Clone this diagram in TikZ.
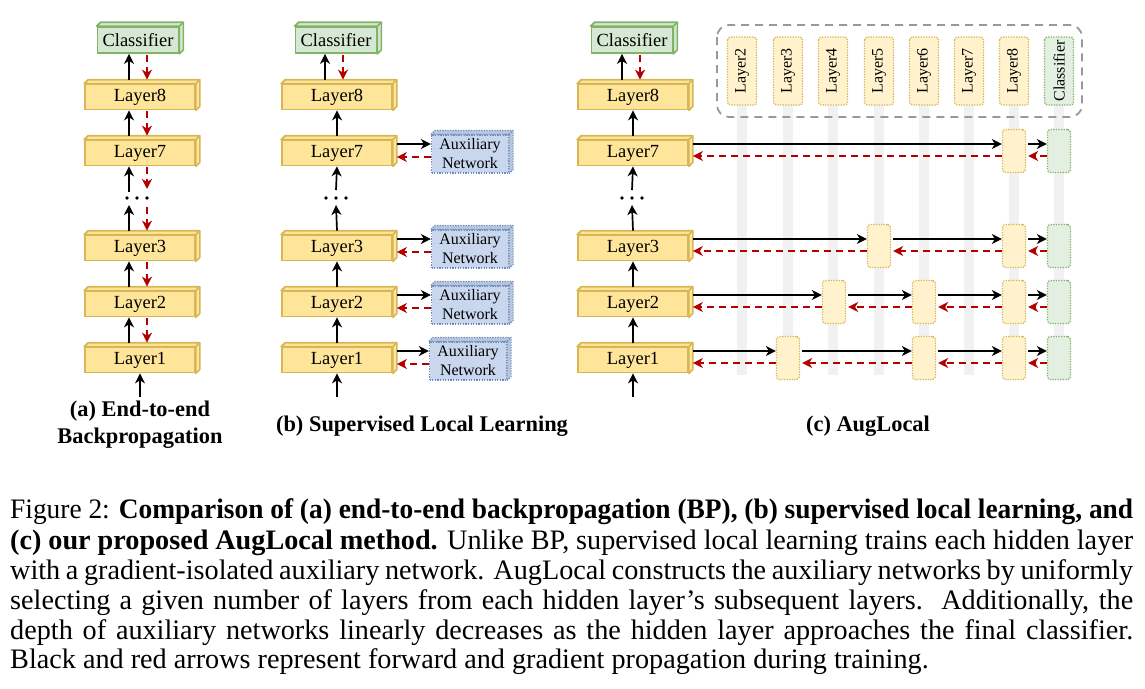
\documentclass[tikz,border=0pt]{standalone}
\usepackage{fontspec}
\setmainfont{Liberation Serif}
\usetikzlibrary{arrows.meta,calc}
\definecolor{layfill}{HTML}{FFE599}
\definecolor{laybd}{HTML}{D6B656}
\definecolor{clsfill}{HTML}{D5E8D4}
\definecolor{clsbd}{HTML}{82B366}
\definecolor{auxfill}{HTML}{C9D7EE}
\definecolor{auxbd}{HTML}{6C8EBF}
\definecolor{smfill}{HTML}{FFF2CC}
\definecolor{gradred}{HTML}{B20000}
\definecolor{bandgray}{HTML}{F1F1F1}
\definecolor{boxgray}{HTML}{999999}
\newcommand\cubeside[2]{%
  \filldraw[#2] (#1.north west) -- ++(4,-4) -- ($(#1.north east)+(4,-4)$) -- ($(#1.south east)+(4,-4)$) -- (#1.south east) -- (#1.north east) -- cycle;
  \draw[#2] (#1.north east) -- ++(4,-4);
}
\begin{document}
\begin{tikzpicture}[x=1pt,y=-1pt,
  layer/.style={draw=laybd, fill=layfill, line width=1.7pt, minimum width=110pt, minimum height=25pt, inner sep=0pt, font=\fontsize{18.5}{20}\selectfont},
  cls/.style={layer, draw=clsbd, fill=clsfill, minimum width=81pt, minimum height=26pt},
  layface/.style={draw=laybd, fill=layfill, line width=1.7pt, line join=round},
  clsface/.style={draw=clsbd, fill=clsfill, line width=1.7pt, line join=round},
  auxface/.style={draw=auxbd, fill=auxfill!92!black, line width=1.2pt, dash pattern=on 1.3pt off 1.3pt, line join=round},
  aux/.style={draw=auxbd, fill=auxfill, line width=1.2pt, dash pattern=on 1.3pt off 1.3pt, minimum width=77pt, minimum height=38pt, inner sep=0pt, align=center, font=\fontsize{16}{19}\selectfont},
  small/.style={draw=laybd, fill=smfill, line width=1.3pt, dash pattern=on 1.3pt off 1.3pt, rounded corners=3pt, minimum width=23pt, minimum height=43pt, inner sep=0pt},
  smallg/.style={small, draw=clsbd, fill=clsfill!70!white},
  vlab/.style={small, minimum width=68pt, minimum height=29pt, rotate=90, font=\fontsize{16}{18}\selectfont},
  vlabg/.style={vlab, draw=clsbd, fill=clsfill!70!white},
  fw/.style={draw=black, line width=1.7pt, -{Stealth[length=10pt,width=10pt,inset=3pt]}},
  bw/.style={draw=gradred, line width=1.7pt, dash pattern=on 7pt off 5pt, -{Stealth[length=10pt,width=10pt,inset=3pt]}},
  band/.style={fill=bandgray, draw=none},
  groupbox/.style={draw=boxgray, line width=1.8pt, dash pattern=on 8pt off 6pt, rounded corners=12pt},
  title/.style={font=\bfseries\fontsize{22.4}{27}\selectfont, align=center},
  capline/.style={anchor=base west, inner sep=0pt, font=\fontsize{28.2}{30}\selectfont}
]
\useasboundingbox (0,0) rectangle (1145,688);

% ---------------- (a) ----------------
\node[cls] (ca) at (138,40) {Classifier};
\node[layer] (a8) at (140,97) {Layer8};
\node[layer] (a7) at (140,153) {Layer7};
\node[layer] (a3) at (140,248) {Layer3};
\node[layer] (a2) at (140,304) {Layer2};
\node[layer] (a1) at (140,360) {Layer1};
\cubeside{ca}{clsface}
\foreach \n in {a8,a7,a3,a2,a1} {\cubeside{\n}{layface}}
\coordinate (da) at (137,198);
\foreach \dx in {-10,0,10} \fill ($(da)+(\dx,0)$) circle (1.8);
\draw[fw] ($(a8.north)+(-11,-4)$) -- ($(ca.south)+(-9,0)$);
\draw[bw] ($(ca.south)+(9,1)$) -- ($(a8.north)+(7,-4)$);
\draw[fw] ($(a7.north)+(-11,-4)$) -- ($(a8.south)+(-11,0)$);
\draw[bw] ($(a8.south)+(7,1)$) -- ($(a7.north)+(7,-4)$);
\draw[fw] ($(da)+(-8,-6)$) -- ($(a7.south)+(-11,0)$);
\draw[bw] ($(a7.south)+(7,1)$) -- ($(da)+(10,-9)$);
\draw[fw] ($(a3.north)+(-11,-4)$) -- ($(da)+(-8,7)$);
\draw[bw] ($(da)+(10,9)$) -- ($(a3.north)+(7,-4)$);
\draw[fw] ($(a2.north)+(-11,-4)$) -- ($(a3.south)+(-11,0)$);
\draw[bw] ($(a3.south)+(7,1)$) -- ($(a2.north)+(7,-4)$);
\draw[fw] ($(a1.north)+(-11,-4)$) -- ($(a2.south)+(-11,0)$);
\draw[bw] ($(a2.south)+(7,1)$) -- ($(a1.north)+(7,-4)$);
\coordinate (ina) at (140,397);
\draw[fw] (ina) -- (a1.south);
\node[title] (ta) at (140,425) {(a) End-to-end\\Backpropagation};

% ---------------- (b) ----------------
\node[cls] (cb) at (336,40) {Classifier};
\node[layer] (b8) at (337,97) {Layer8};
\node[layer] (b7) at (337,153) {Layer7};
\node[layer] (b3) at (337,248) {Layer3};
\node[layer] (b2) at (337,304) {Layer2};
\node[layer] (b1) at (337,360) {Layer1};
\cubeside{cb}{clsface}
\foreach \n in {b8,b7,b3,b2,b1} {\cubeside{\n}{layface}}
\coordinate (db) at (336,198);
\foreach \dx in {-10,0,10} \fill ($(db)+(\dx,0)$) circle (1.8);
\draw[fw] ($(b8.north)+(-12,-4)$) -- ($(cb.south)+(-11,0)$);
\draw[bw] ($(cb.south)+(7,1)$) -- ($(b8.north)+(6,-4)$);
\draw[fw] ($(b7.north)+(0,-4)$) -- (b8.south);
\draw[fw] ($(db)+(0,-8)$) -- (b7.south);
\draw[fw] ($(b3.north)+(0,-4)$) -- ($(db)+(0,7)$);
\draw[fw] ($(b2.north)+(0,-4)$) -- (b3.south);
\draw[fw] ($(b1.north)+(0,-4)$) -- (b2.south);
\coordinate (inb) at (337,397);
\draw[fw] (inb) -- (b1.south);
\node[aux] (ab7) at (470,154) {Auxiliary\\Network};
\node[aux] (ab3) at (470,249) {Auxiliary\\Network};
\node[aux] (ab2) at (470,305) {Auxiliary\\Network};
\node[aux] (ab1) at (468,361) {Auxiliary\\Network};
\foreach \n in {ab7,ab3,ab2,ab1} {\cubeside{\n}{auxface}}
\foreach \l/\a in {b7/ab7,b3/ab3,b2/ab2,b1/ab1} {
  \draw[fw] ($(\l.east)+(4,-9)$) -- ($(\a.west)+(0,-10)$);
  \draw[bw] ($(\a.west)+(0,3)$) -- ($(\l.east)+(4,4)$);
}
\node[title] (tb) at (422,426) {(b) Supervised Local Learning};

% ---------------- (c) ----------------
\foreach \x in {742,788,833,879,924,969,1014,1059} \fill[band] (\x-5,100) rectangle (\x+5,375);
\draw[groupbox] (717,25) rectangle (1082,117);
\node[vlab] (v2) at (742,71) {Layer2};
\node[vlab] (v3) at (788,71) {Layer3};
\node[vlab] (v4) at (833,71) {Layer4};
\node[vlab] (v5) at (879,71) {Layer5};
\node[vlab] (v6) at (924,71) {Layer6};
\node[vlab] (v7) at (969,71) {Layer7};
\node[vlab] (v8) at (1014,71) {Layer8};
\node[vlabg] (vc) at (1059,71) {Classifier};

\node[cls] (cc) at (632,40) {Classifier};
\node[layer] (c8) at (633,97) {Layer8};
\node[layer] (c7) at (633,153) {Layer7};
\node[layer] (c3) at (633,248) {Layer3};
\node[layer] (c2) at (633,304) {Layer2};
\node[layer] (c1) at (633,360) {Layer1};
\cubeside{cc}{clsface}
\foreach \n in {c8,c7,c3,c2,c1} {\cubeside{\n}{layface}}
\coordinate (dc) at (632,198);
\foreach \dx in {-10,0,10} \fill ($(dc)+(\dx,0)$) circle (1.8);
\draw[fw] ($(c8.north)+(-11,-4)$) -- ($(cc.south)+(-10,0)$);
\draw[bw] ($(cc.south)+(8,1)$) -- ($(c8.north)+(7,-4)$);
\draw[fw] ($(c7.north)+(0,-4)$) -- (c8.south);
\draw[fw] ($(dc)+(0,-8)$) -- (c7.south);
\draw[fw] ($(c3.north)+(0,-4)$) -- ($(dc)+(0,7)$);
\draw[fw] ($(c2.north)+(0,-4)$) -- (c3.south);
\draw[fw] ($(c1.north)+(0,-4)$) -- (c2.south);
\coordinate (inc) at (633,397);
\draw[fw] (inc) -- (c1.south);

% rows of small boxes
\node[small] (s78) at (1014,151) {};
\node[smallg] (s7c) at (1059,151) {};
\node[small] (s35) at (879,246) {};
\node[small] (s38) at (1014,246) {};
\node[smallg] (s3c) at (1059,246) {};
\node[small] (s24) at (834,302) {};
\node[small] (s26) at (924,302) {};
\node[small] (s28) at (1014,302) {};
\node[smallg] (s2c) at (1059,302) {};
\node[small] (s13) at (788,358) {};
\node[small] (s16) at (924,358) {};
\node[small] (s18) at (1014,358) {};
\node[smallg] (s1c) at (1059,358) {};

\foreach \l/\s in {c7/s78,c3/s35,c2/s24,c1/s13} {
  \draw[fw] ($(\l.east)+(4,-9)$) -- ($(\s.west)+(0,-7)$);
  \draw[bw] ($(\s.west)+(0,5)$) -- ($(\l.east)+(4,3)$);
}
\foreach \p/\q in {s78/s7c,s35/s38,s38/s3c,s24/s26,s26/s28,s28/s2c,s13/s16,s16/s18,s18/s1c} {
  \draw[fw] ($(\p.east)+(2,-7)$) -- ($(\q.west)+(0,-7)$);
  \draw[bw] ($(\q.west)+(0,5)$) -- ($(\p.east)+(2,5)$);
}
\node[title] (tc) at (868,426) {(c) AugLocal};

% ---------------- caption ----------------
\node[capline] (l1) at (10,518) {\resizebox{1123pt}{\height}{Figure 2: \textbf{Comparison of (a) end-to-end backpropagation (BP), (b) supervised local learning, and}}};
\node[capline] (l2) at (10,549) {\makebox[1123pt][s]{\textbf{(c) our proposed AugLocal method.} Unlike BP, supervised local learning trains each hidden layer}};
\node[capline] (l3) at (10,579) {\makebox[1123pt][s]{with a gradient-isolated auxiliary network. AugLocal constructs the auxiliary networks by uniformly}};
\node[capline] (l4) at (10,609) {\makebox[1123pt][s]{selecting a given number of layers from each hidden layer’s subsequent layers.\ \ Additionally, the}};
\node[capline] (l5) at (10,639) {\makebox[1123pt][s]{depth of auxiliary networks linearly decreases as the hidden layer approaches the final classifier.}};
\node[capline] (l6) at (10,668) {Black and red arrows represent forward and gradient propagation during training.};
\end{tikzpicture}
\end{document}
